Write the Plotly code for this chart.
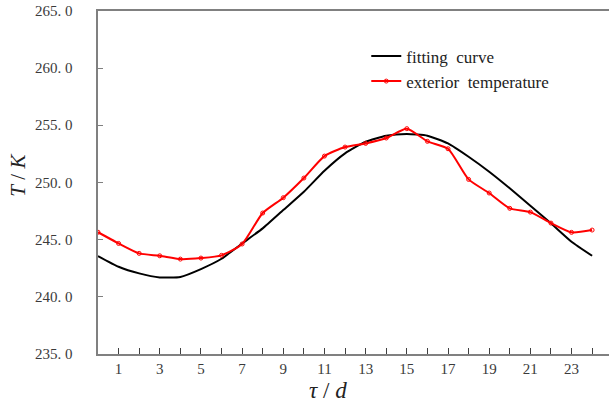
import plotly.graph_objects as go

days = list(range(25))
exterior = [245.65, 244.67, 243.80, 243.59, 243.30, 243.39, 243.63, 244.62, 247.33,
            248.67, 250.39, 252.31, 253.10, 253.42, 253.89, 254.71, 253.60, 252.95,
            250.27, 249.08, 247.74, 247.41, 246.45, 245.64, 245.84]
fitting = [243.57, 242.63, 242.05, 241.70, 241.74, 242.43, 243.33, 244.67, 245.99,
           247.59, 249.19, 251.03, 252.55, 253.57, 254.09, 254.24, 254.09, 253.42,
           252.25, 250.94, 249.49, 247.97, 246.43, 244.82, 243.59]
ytick_vals = [235, 240, 245, 250, 255, 260, 265]
ytick_text = ["235. 0", "240. 0", "245. 0", "250. 0", "255. 0", "260. 0", "265. 0"]
xtick_vals = list(range(1, 24, 2))
xtick_text = [str(v) for v in xtick_vals]

fig = go.Figure()
fig.add_trace(go.Scatter(x=days, y=fitting, mode="lines", name="fitting  curve",
                         line=dict(color="black", width=2, shape="spline", smoothing=0.5)))
fig.add_trace(go.Scatter(x=days, y=exterior, mode="lines+markers", name="exterior  temperature",
                         line=dict(color="#ff0000", width=2, shape="spline", smoothing=0.6),
                         marker=dict(symbol="circle-open", size=4, color="#ff0000", line=dict(width=1))))

tickfont = dict(family="Liberation Serif", size=15, color="#3a3a3a")
fig.update_layout(
    width=609, height=403,
    margin=dict(l=98, r=0, t=11, b=49),
    paper_bgcolor="white", plot_bgcolor="white",
    showlegend=True,
    legend=dict(x=0.525, y=0.92, xanchor="left", yanchor="top",
                font=dict(family="Liberation Serif", size=17, color="#222"),
                bgcolor="rgba(0,0,0,0)", itemwidth=30, tracegroupgap=2),
    xaxis=dict(range=[0, 24.82], showgrid=False, zeroline=False,
               showline=True, linecolor="#808080", linewidth=1.5, mirror=True,
               tickvals=xtick_vals, ticktext=xtick_text, ticks="inside", ticklen=6,
               tickcolor="#404040", tickfont=tickfont,
               minor=dict(tickvals=list(range(0, 25)), ticks="inside", ticklen=6, tickcolor="#404040")),
    yaxis=dict(range=[235, 265], showgrid=False, zeroline=False,
               showline=True, linecolor="#808080", linewidth=1.5,
               tickvals=ytick_vals, showticklabels=False,
               ticks="inside", ticklen=5, tickcolor="#808080"),
)
for v, t in zip(ytick_vals, ytick_text):
    fig.add_annotation(text=t, xref="paper", yref="y", x=0, y=v,
                       xanchor="right", yanchor="middle", showarrow=False,
                       xshift=-23, font=tickfont)
fig.add_annotation(text="<i>T</i> / <i>K</i>", xref="paper", yref="paper",
                   x=0, y=0.52, xanchor="center", yanchor="middle", textangle=-90,
                   xshift=-80, showarrow=False, font=dict(family="Liberation Serif", size=21, color="#222"))
fig.add_annotation(text="<i>τ</i> / <i>d</i>", xref="paper", yref="paper",
                   x=0.45, y=-0.105, xanchor="center", yanchor="middle",
                   showarrow=False, font=dict(family="Liberation Serif", size=23, color="#222"))
fig.write_html("out.html")
